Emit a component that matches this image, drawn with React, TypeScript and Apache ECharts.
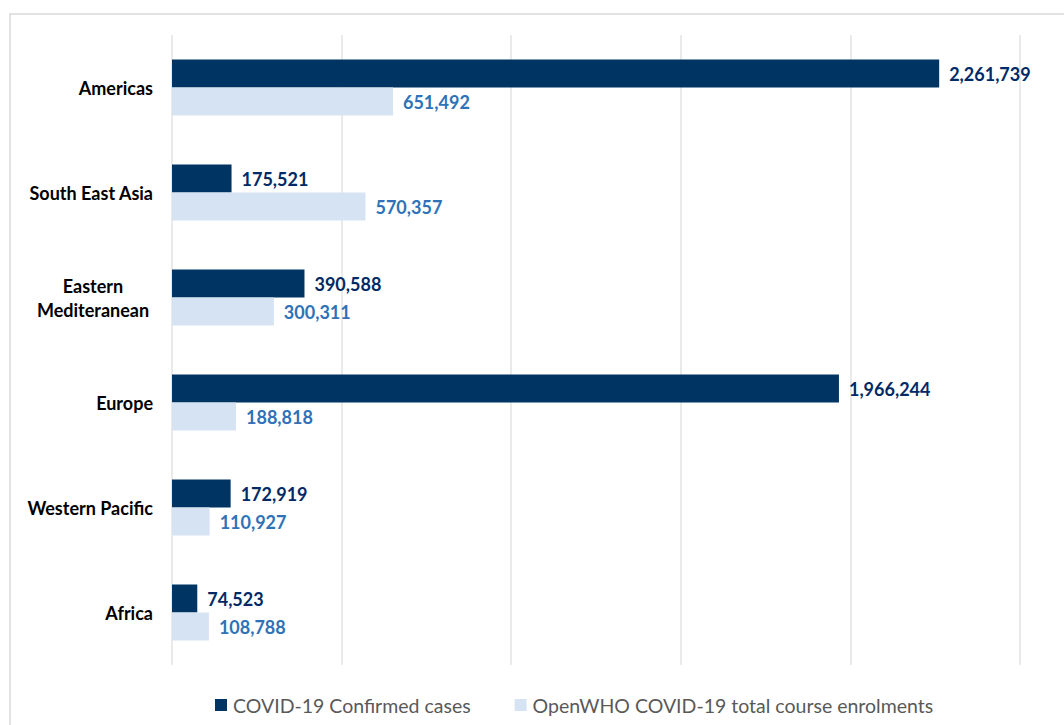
import React, { useEffect, useRef } from "react";
import * as echarts from "echarts";

const categories = [
  "Americas",
  "South East Asia",
  "Eastern Mediteranean",
  "Europe",
  "Western Pacific",
  "Africa",
];
const confirmedCases = [2261739, 175521, 390588, 1966244, 172919, 74523];
const enrolments = [651492, 570357, 300311, 188818, 110927, 108788];
const seriesNames = [
  "COVID-19 Confirmed cases",
  "OpenWHO COVID-19 total course enrolments",
];

const FONT = "Lato, 'Open Sans', sans-serif";

export default function App() {
  const ref = useRef<HTMLDivElement>(null);
  useEffect(() => {
    if (!ref.current) return;
    const chart = echarts.init(ref.current, undefined, { renderer: "svg" });
    const fmt = (v: number) => v.toLocaleString("en-US");
    chart.setOption({
      animation: false,
      textStyle: { fontFamily: FONT },
      graphic: [
        {
          type: "rect",
          shape: { x: 10, y: 14, width: 1070, height: 730 },
          style: { fill: "none", stroke: "#d9d9d9", lineWidth: 1.5 },
          silent: true,
        },
      ],
      grid: { left: 172, right: 44, top: 35, bottom: 60, containLabel: false },
      legend: {
        bottom: 5,
        left: 210,
        itemWidth: 12,
        itemHeight: 12,
        itemGap: 44,
        icon: "rect",
        textStyle: { color: "#595959", fontSize: 19.5, fontFamily: FONT, padding: [0, 0, 0, 1] },
        data: seriesNames,
      },
      xAxis: {
        type: "value",
        min: 0,
        max: 2500000,
        interval: 500000,
        axisLabel: { show: false },
        axisLine: { show: false },
        axisTick: { show: false },
        splitLine: { lineStyle: { color: "#e3e3e3", width: 1.5 } },
      },
      yAxis: {
        type: "category",
        inverse: true,
        data: categories,
        axisLine: { show: false },
        axisTick: { show: false },
        axisLabel: {
          margin: 19,
          color: "#000000",
          fontSize: 18,
          fontWeight: "bold",
          fontFamily: FONT,
          formatter: (v: string) =>
            v === "Eastern Mediteranean" ? "{c|Eastern}\n{c|Mediteranean}" : v,
          rich: {
            c: {
              width: 120,
              align: "center",
              fontSize: 18,
              fontWeight: "bold",
              color: "#000000",
              fontFamily: FONT,
              lineHeight: 24,
            },
          },
        },
      },
      series: [
        {
          name: seriesNames[0],
          type: "bar",
          data: confirmedCases,
          barWidth: 28,
          barGap: "0%",
          itemStyle: { color: "#003462" },
          label: {
            show: true,
            position: "right",
            distance: 10,
            color: "#002a66",
            fontSize: 18,
            fontWeight: "bold",
            fontFamily: FONT,
            formatter: (p: any) => fmt(p.value),
          },
        },
        {
          name: seriesNames[1],
          type: "bar",
          data: enrolments,
          barWidth: 28,
          barGap: "0%",
          itemStyle: { color: "#d6e3f3" },
          label: {
            show: true,
            position: "right",
            distance: 10,
            color: "#2e72b8",
            fontSize: 18,
            fontWeight: "bold",
            fontFamily: FONT,
            formatter: (p: any) => fmt(p.value),
          },
        },
      ],
    });
    return () => chart.dispose();
  }, []);
  return (
    <div
      ref={ref}
      style={{ position: "fixed", left: 0, top: 0, width: 1064, height: 725, background: "#fff" }}
    />
  );
}
